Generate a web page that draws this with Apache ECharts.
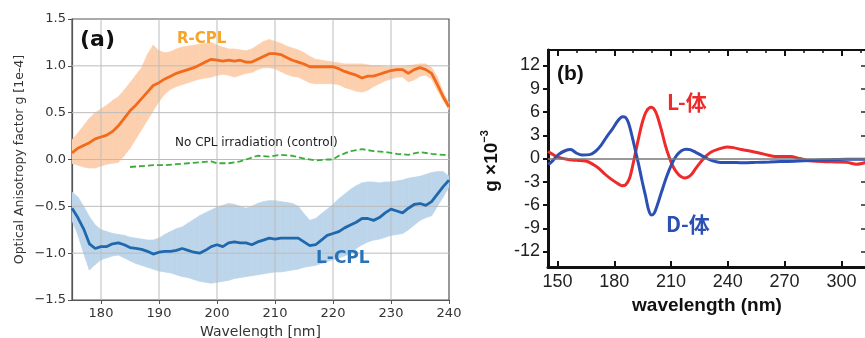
<!DOCTYPE html>
<html>
<head>
<meta charset="utf-8">
<script src="https://cdn.jsdelivr.net/npm/echarts@6/dist/echarts.min.js"></script>
<style>
	html, body {margin: 0; background: #fff;}
	#chart {width: 865px; height: 338px;}
</style>
</head>
<body>
<div id="chart"></div>
<script>
// ---- panel (a): optical anisotropy factor, wavelength 175-240 nm ----
const range = (a, b) => { const r = []; for (let v = a; v <= b; v++) r.push(v); return r; };
const wlA = range(175, 240);

const rMean = [0.07, 0.12, 0.15, 0.18, 0.22, 0.24, 0.26, 0.30, 0.36, 0.44, 0.52, 0.58, 0.65, 0.72, 0.79, 0.82,
	0.86, 0.89, 0.92, 0.94, 0.96, 0.98, 1.01, 1.04, 1.07, 1.06, 1.05, 1.06, 1.05, 1.06, 1.04, 1.04,
	1.07, 1.10, 1.13, 1.13, 1.12, 1.09, 1.06, 1.04, 1.02, 0.99, 0.99, 0.99, 0.99, 0.99, 0.97, 0.94,
	0.92, 0.90, 0.87, 0.89, 0.89, 0.91, 0.93, 0.95, 0.96, 0.96, 0.92, 0.96, 0.98, 0.96, 0.92, 0.80,
	0.67, 0.56];
const rLow = [-0.04, -0.06, -0.08, -0.09, -0.09, -0.07, -0.05, -0.04, -0.03, 0.04, 0.12, 0.22, 0.32, 0.42, 0.52, 0.62,
	0.70, 0.75, 0.78, 0.80, 0.82, 0.84, 0.86, 0.87, 0.88, 0.90, 0.91, 0.90, 0.88, 0.90, 0.92, 0.93,
	0.96, 0.98, 0.98, 0.97, 0.94, 0.91, 0.89, 0.88, 0.85, 0.82, 0.81, 0.81, 0.81, 0.81, 0.80, 0.77,
	0.75, 0.73, 0.72, 0.74, 0.78, 0.81, 0.84, 0.86, 0.88, 0.88, 0.83, 0.85, 0.89, 0.90, 0.86, 0.74,
	0.63, 0.53];
const rHigh = [0.21, 0.28, 0.36, 0.44, 0.50, 0.54, 0.58, 0.63, 0.67, 0.74, 0.82, 0.90, 0.98, 1.12, 1.22, 1.16,
	1.14, 1.15, 1.18, 1.20, 1.21, 1.22, 1.23, 1.24, 1.25, 1.22, 1.20, 1.18, 1.18, 1.17, 1.16, 1.18,
	1.22, 1.26, 1.28, 1.26, 1.24, 1.21, 1.19, 1.17, 1.14, 1.10, 1.07, 1.06, 1.05, 1.04, 1.03, 1.02,
	1.02, 1.02, 1.02, 1.01, 1.00, 1.00, 0.99, 0.99, 0.99, 0.99, 1.00, 1.01, 1.02, 1.02, 0.98, 0.88,
	0.72, 0.60];

const lMean = [-0.52, -0.62, -0.74, -0.90, -0.95, -0.93, -0.93, -0.90, -0.89, -0.91, -0.94, -0.95, -0.96, -0.98, -1.01, -0.99,
	-0.98, -0.98, -0.97, -0.95, -0.97, -0.99, -1.00, -0.97, -0.93, -0.91, -0.93, -0.89, -0.88, -0.89, -0.89, -0.91,
	-0.88, -0.86, -0.84, -0.85, -0.84, -0.84, -0.84, -0.84, -0.88, -0.92, -0.91, -0.86, -0.81, -0.79, -0.77, -0.73,
	-0.70, -0.67, -0.63, -0.63, -0.65, -0.62, -0.57, -0.53, -0.55, -0.57, -0.52, -0.48, -0.47, -0.49, -0.45, -0.37,
	-0.29, -0.22];
const lLow = [-0.65, -0.80, -1.00, -1.18, -1.12, -1.07, -1.05, -1.03, -1.02, -1.05, -1.08, -1.11, -1.13, -1.15, -1.17, -1.19,
	-1.20, -1.21, -1.23, -1.25, -1.26, -1.28, -1.30, -1.31, -1.32, -1.31, -1.30, -1.29, -1.27, -1.26, -1.25, -1.24,
	-1.23, -1.22, -1.21, -1.20, -1.20, -1.19, -1.18, -1.17, -1.15, -1.14, -1.13, -1.11, -1.09, -1.07, -1.05, -1.03,
	-1.00, -0.95, -0.91, -0.88, -0.86, -0.85, -0.83, -0.81, -0.80, -0.79, -0.75, -0.70, -0.65, -0.62, -0.60, -0.50,
	-0.40, -0.29];
const lHigh = [-0.35, -0.40, -0.50, -0.61, -0.70, -0.75, -0.77, -0.79, -0.80, -0.81, -0.83, -0.84, -0.85, -0.86, -0.86, -0.84,
	-0.80, -0.77, -0.74, -0.72, -0.68, -0.64, -0.60, -0.57, -0.54, -0.51, -0.49, -0.47, -0.48, -0.50, -0.52, -0.50,
	-0.47, -0.45, -0.44, -0.44, -0.45, -0.46, -0.47, -0.50, -0.58, -0.65, -0.63, -0.58, -0.53, -0.48, -0.42, -0.37,
	-0.32, -0.28, -0.25, -0.24, -0.24, -0.25, -0.24, -0.24, -0.23, -0.22, -0.20, -0.19, -0.18, -0.16, -0.14, -0.13,
	-0.13, -0.18];

const ctrlWl = [185, 187, 189, 191, 193, 195, 197, 199, 200, 202, 204, 206, 207, 209, 211, 213, 215, 217, 219, 220,
	221, 223, 225, 227, 229, 231, 233, 235, 237, 239, 240];
const ctrlVal = [-0.08, -0.07, -0.06, -0.06, -0.05, -0.04, -0.03, -0.02, -0.04, -0.04, -0.02, 0.02, 0.04, 0.03, 0.05, 0.04,
	0.01, -0.01, 0.00, 0.00, 0.04, 0.09, 0.11, 0.09, 0.08, 0.06, 0.05, 0.08, 0.06, 0.05, 0.05];

const aXTicks = [180, 190, 200, 210, 220, 230, 240];
const aYTicks = [-1.5, -1.0, -0.5, 0, 0.5, 1.0, 1.5];

// ---- panel (b): g x10^-3 for L- and D- forms ----
const dWl = [145.2, 147, 150.5, 154, 157, 160, 163, 167, 170, 173, 176, 179, 182, 184.3, 186, 187.5, 189.5, 191.2,
	193, 194.8, 196.5, 198, 199.5, 201, 202.5, 205, 207, 209, 211, 213, 215.5, 218, 220, 223, 226, 229, 232,
	236, 241, 248, 255, 262, 268, 275, 285, 295, 303, 313];
const dVal = [-0.8, -0.4, 0.5, 1.0, 1.15, 0.7, 0.45, 0.5, 0.9, 1.7, 2.8, 3.8, 4.9, 5.4, 5.3, 4.6, 2.8, 1.0,
	-0.9, -3.0, -4.8, -6.5, -7.3, -7.1, -6.2, -4.3, -2.8, -1.5, -0.4, 0.4, 1.0, 1.2, 1.15, 0.8, 0.4, 0.0, -0.3,
	-0.5, -0.5, -0.55, -0.5, -0.45, -0.4, -0.35, -0.25, -0.15, -0.1, -0.1];
const lfWl = [145, 147, 149, 152, 155, 158, 161, 164, 166.5, 169, 172, 175, 178, 181, 184, 186, 188, 189.5, 191,
	193, 195, 197, 199.5, 201.5, 203, 205, 207, 209, 211, 213, 215, 217, 219, 221, 223, 225.5, 228, 231, 235,
	239.5, 243, 247, 251, 256, 261, 265, 273, 278, 282, 290, 297, 303, 308, 313];
const lfVal = [0.9, 0.6, 0.3, 0.05, -0.1, -0.2, -0.25, -0.3, -0.45, -0.8, -1.3, -2.0, -2.6, -3.1, -3.5, -3.4, -2.6, -1.2, 0.5,
	2.8, 4.8, 6.1, 6.6, 6.2, 5.3, 3.6, 1.7, 0.2, -1.0, -1.8, -2.3, -2.5, -2.4, -2.0, -1.3, -0.5, 0.2, 0.8, 1.2,
	1.5, 1.4, 1.15, 1.0, 0.75, 0.45, 0.25, 0.25, 0.0, -0.25, -0.4, -0.45, -0.5, -0.75, -0.5];

const bXTicks = [150, 180, 210, 240, 270, 300];
const bXMinor = [150, 160, 170, 180, 190, 200, 210, 220, 230, 240, 250, 260, 270, 280, 290, 300, 310];
const bYTicks = [-12, -9, -6, -3, 0, 3, 6, 9, 12];

const pairs = (xs, ys) => xs.map((x, i) => [x, ys[i]]);

const chart = echarts.init(document.getElementById('chart'));

const aFont = 'DejaVu Sans';
const bFont = 'Liberation Sans';

// shaded spread band: one quad per wavelength step, placed through the axes
const band = (lo, hi, color) => ({
	type: 'custom', xAxisIndex: 0, yAxisIndex: 0, silent: true, z: 1, clip: true,
	data: wlA.map((x, i) => [x, lo[i], hi[i]]),
	encode: {x: 0, y: [1, 2]},
	renderItem: (params, api) => {
		const i = params.dataIndex;
		if (i >= wlA.length - 1) return null;
		const pts = [
			api.coord([wlA[i], lo[i]]), api.coord([wlA[i + 1], lo[i + 1]]),
			api.coord([wlA[i + 1], hi[i + 1]]), api.coord([wlA[i], hi[i]])
		];
		return {type: 'polygon', shape: {points: pts}, style: {fill: color, stroke: color, lineWidth: 0.8}};
	}
});

// matplotlib-style grid, above the bands and below the lines
const gridSeries = {
	type: 'custom', xAxisIndex: 0, yAxisIndex: 0, silent: true, z: 2,
	data: [...aXTicks.slice(0, -1).map(v => [v, 0]), ...aYTicks.slice(1, -1).map(v => [0, v])],
	renderItem: (params, api) => {
		const i = params.dataIndex;
		const nx = aXTicks.length - 1;
		let p1, p2;
		if (i < nx) {
			const v = aXTicks[i];
			p1 = api.coord([v, -1.5]); p2 = api.coord([v, 1.5]);
		} else {
			const v = aYTicks[i - nx + 1];
			p1 = api.coord([175, v]); p2 = api.coord([240, v]);
		}
		return {
			type: 'line', shape: {x1: p1[0], y1: p1[1], x2: p2[0], y2: p2[1]},
			style: {stroke: '#bcbcbc', lineWidth: 1}
		};
	}
};

chart.setOption({
	animation: false,
	grid: [
		{left: 72, top: 19, width: 377, height: 281, show: true, borderColor: '#555', borderWidth: 1.2, outerBoundsMode: 'none'},
		{left: 548, top: 50, width: 318, height: 217, show: true, borderColor: '#111', borderWidth: 2, outerBoundsMode: 'none'}
	],
	xAxis: [
		{
			gridIndex: 0, type: 'value', min: 175, max: 240,
			name: 'Wavelength [nm]', nameLocation: 'middle', nameGap: 25,
			nameTextStyle: {fontFamily: aFont, fontSize: 14, color: '#333'},
			axisLine: {onZero: false, lineStyle: {color: '#555', width: 1.2}},
			axisTick: {customValues: aXTicks, length: 4, lineStyle: {color: '#555'}},
			axisLabel: {customValues: aXTicks, fontFamily: aFont, fontSize: 13, color: '#333', margin: 7},
			splitLine: {show: false}
		},
		{
			gridIndex: 1, type: 'value', min: 145, max: 313,
			name: 'wavelength (nm)', nameLocation: 'middle', nameGap: 28,
			nameTextStyle: {fontFamily: bFont, fontSize: 19, fontWeight: 'bold', color: '#111'},
			axisLine: {onZero: false, lineStyle: {color: '#111', width: 3}},
			axisTick: {customValues: bXTicks, inside: true, length: 6, lineStyle: {color: '#111', width: 2}},
			axisLabel: {customValues: bXTicks, fontFamily: bFont, fontSize: 18, color: '#222', margin: 6},
			splitLine: {show: false}
		},
		{
			gridIndex: 1, type: 'value', min: 145, max: 313,
			axisLine: {show: false, onZero: false},
			axisTick: {customValues: bXMinor, inside: true, length: 3, lineStyle: {color: '#111', width: 1.5}},
			axisLabel: {show: false}, splitLine: {show: false}
		},
		{
			gridIndex: 1, type: 'value', min: 145, max: 313, position: 'top',
			axisLine: {show: false, onZero: false},
			axisTick: {customValues: bXMinor, inside: true, length: 3, lineStyle: {color: '#111', width: 1.5}},
			axisLabel: {show: false}, splitLine: {show: false}
		},
		{
			gridIndex: 1, type: 'value', min: 145, max: 313, position: 'top',
			axisLine: {show: false, onZero: false},
			axisTick: {customValues: bXTicks, inside: true, length: 6, lineStyle: {color: '#111', width: 2}},
			axisLabel: {show: false}, splitLine: {show: false}
		}
	],
	yAxis: [
		{
			gridIndex: 0, type: 'value', min: -1.5, max: 1.5, interval: 0.5,
			name: 'Optical Anisotropy factor g [1e-4]', nameLocation: 'middle', nameGap: 46, nameRotate: 90,
			nameTextStyle: {fontFamily: aFont, fontSize: 12.5, color: '#333'},
			axisLine: {show: true, onZero: false, lineStyle: {color: '#555', width: 1.2}},
			axisTick: {show: true, length: 4, lineStyle: {color: '#555'}},
			axisLabel: {
				fontFamily: aFont, fontSize: 13, color: '#333', margin: 6,
				formatter: v => (v < 0 ? '\u2212' : '') + Math.abs(v).toFixed(1)
			},
			splitLine: {show: false}
		},
		{
			gridIndex: 1, type: 'value', min: -14, max: 14,
			axisLine: {show: true, onZero: false, lineStyle: {color: '#111', width: 3}},
			axisTick: {show: true, customValues: bYTicks, length: 5, lineStyle: {color: '#111', width: 2}},
			axisLabel: {customValues: bYTicks, fontFamily: bFont, fontSize: 18, color: '#222', margin: 8},
			splitLine: {show: false}
		},
		{
			gridIndex: 1, type: 'value', min: -14, max: 14,
			axisLine: {show: false, onZero: false},
			axisTick: {show: true, customValues: bYTicks, inside: true, length: 5, lineStyle: {color: '#111', width: 2}},
			axisLabel: {show: false}, splitLine: {show: false}
		},
		{
			gridIndex: 1, type: 'value', min: -14, max: 14, position: 'right',
			axisLine: {show: false, onZero: false},
			axisTick: {show: true, customValues: bYTicks, inside: true, length: 5, lineStyle: {color: '#777', width: 1.5}},
			axisLabel: {show: false}, splitLine: {show: false}
		}
	],
	series: [
		band(rLow, rHigh, '#fcd0ae'),
		band(lLow, lHigh, '#bcd5ea'),
		gridSeries,
		{
			name: 'control', type: 'line', xAxisIndex: 0, yAxisIndex: 0, z: 3,
			data: pairs(ctrlWl, ctrlVal), symbol: 'none',
			lineStyle: {color: '#3aac3a', width: 1.8, type: [6, 3]}
		},
		{
			name: 'R-CPL', type: 'line', xAxisIndex: 0, yAxisIndex: 0, z: 4,
			data: pairs(wlA, rMean), symbol: 'none',
			lineStyle: {color: '#f26a1b', width: 2.8}
		},
		{
			name: 'L-CPL', type: 'line', xAxisIndex: 0, yAxisIndex: 0, z: 4,
			data: pairs(wlA, lMean), symbol: 'none',
			lineStyle: {color: '#1f68ad', width: 2.8}
		},
		{
			name: 'L-form', type: 'line', xAxisIndex: 1, yAxisIndex: 1,
			data: pairs(lfWl, lfVal), symbol: 'none', smooth: 0.3,
			lineStyle: {color: '#ee2b2b', width: 3},
			markLine: {
				silent: true, symbol: 'none', label: {show: false},
				lineStyle: {color: '#777', width: 1.5, type: 'solid'},
				data: [{yAxis: 0}]
			},
			z: 3
		},
		{
			name: 'D-form', type: 'line', xAxisIndex: 1, yAxisIndex: 1,
			data: pairs(dWl, dVal), symbol: 'none', smooth: 0.3,
			lineStyle: {color: '#2c4fb3', width: 3},
			z: 4
		}
	],
	graphic: [
		{type: 'text', x: 80, y: 40, z: 10, style: {text: '(a)', font: 'bold 22px "DejaVu Sans"', fill: '#111', verticalAlign: 'middle'}},
		{type: 'text', x: 177, y: 39, z: 10, style: {text: 'R-CPL', font: 'bold 15px "DejaVu Sans"', fill: '#f6a52a', verticalAlign: 'middle'}},
		{type: 'text', x: 175, y: 143, z: 10, style: {text: 'No CPL irradiation (control)', font: '12px "DejaVu Sans"', fill: '#222', verticalAlign: 'middle'}},
		{type: 'text', x: 316, y: 259, z: 10, style: {text: 'L-CPL', font: 'bold 17px "DejaVu Sans"', fill: '#2a72b6', verticalAlign: 'middle'}},
		{type: 'text', x: 557, y: 74, z: 10, style: {text: '(b)', font: 'bold 21px "Liberation Sans"', fill: '#111', verticalAlign: 'middle'}},
		{type: 'text', x: 667, y: 102, z: 10, style: {text: 'L-体', font: 'bold 21px "Noto Sans CJK JP"', fill: '#ee2b2b', verticalAlign: 'middle'}},
		{type: 'text', x: 666, y: 224, z: 10, style: {text: 'D-体', font: 'bold 21px "Noto Sans CJK JP"', fill: '#2c4fb3', verticalAlign: 'middle'}},
		{
			type: 'text', x: 492, y: 161, rotation: Math.PI / 2, z: 10,
			style: {
				text: '{m|g ×10}{s|−3}', align: 'center', verticalAlign: 'middle',
				rich: {
					m: {font: 'bold 19px "Liberation Sans"', fill: '#111'},
					s: {font: 'bold 11px "Liberation Sans"', fill: '#111', padding: [0, 0, 14, 0]}
				}
			}
		}
	]
});
</script>
</body>
</html>
